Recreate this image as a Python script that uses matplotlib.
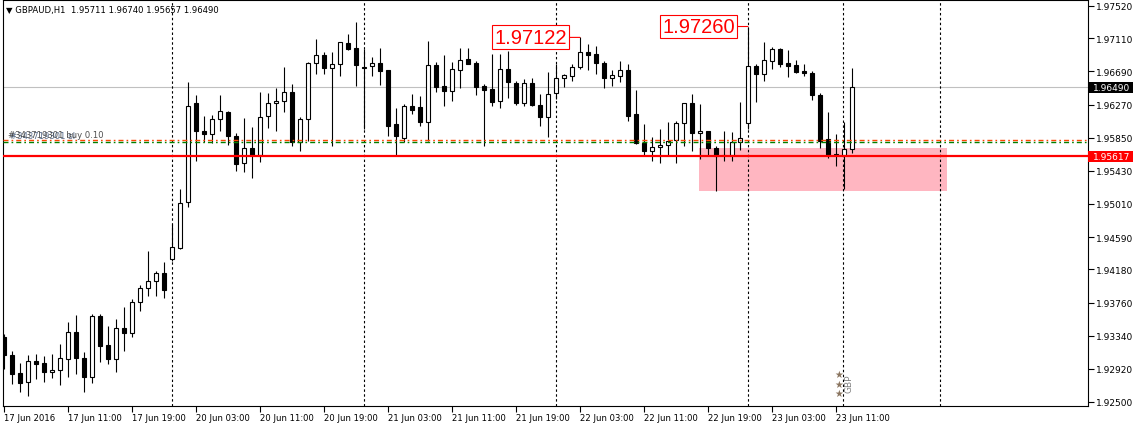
import numpy as np
import matplotlib
matplotlib.use("Agg")
import matplotlib.pyplot as plt
from matplotlib.patches import Rectangle

plt.rcParams['font.family'] = ['DejaVu Sans']

# GBPAUD H1, 17 Jun 2016 03:00 .. 23 Jun 2016 13:00 (one entry per bar)
opens = [1.93324, 1.93099, 1.92868, 1.92750, 1.93020, 1.92990, 1.92876, 1.92902, 1.93045, 1.93384,
         1.93054, 1.92813, 1.93586, 1.93222, 1.93045, 1.93434, 1.93371, 1.93771, 1.93941, 1.94030,
         1.94135, 1.94313, 1.94448, 1.95039, 1.96290, 1.95932, 1.95897, 1.96088, 1.96172, 1.95868,
         1.95526, 1.95716, 1.95631, 1.96122, 1.96287, 1.96312, 1.96426, 1.95792, 1.96088, 1.96794,
         1.96899, 1.96730, 1.96781, 1.97051, 1.96984, 1.96743, 1.96763, 1.96794, 1.96709, 1.96020,
         1.95843, 1.96248, 1.96236, 1.96046, 1.96772, 1.96502, 1.96446, 1.96712, 1.96848, 1.96797,
         1.96502, 1.96468, 1.96319, 1.96721, 1.96544, 1.96287, 1.96544, 1.96265, 1.96109, 1.96413,
         1.96607, 1.96636, 1.96743, 1.96933, 1.96912, 1.96794, 1.96603, 1.96636, 1.96709, 1.96151,
         1.95779, 1.95678, 1.95729, 1.95762, 1.95821, 1.96033, 1.96287, 1.95906, 1.95932, 1.95720,
         1.95635, 1.95635, 1.95792, 1.96033, 1.96756, 1.96658, 1.96827, 1.96975, 1.96794, 1.96772,
         1.96700, 1.96667, 1.96392, 1.95834, 1.95640, 1.95631, 1.95711]
highs = [1.93362, 1.93150, 1.92994, 1.93099, 1.93108, 1.93087, 1.93104, 1.93235, 1.93518, 1.93603,
         1.93134, 1.93612, 1.93612, 1.93460, 1.93552, 1.93700, 1.93806, 1.93983, 1.94410, 1.94157,
         1.94271, 1.94756, 1.95200, 1.96553, 1.96392, 1.96129, 1.96138, 1.96396, 1.96193, 1.95910,
         1.96096, 1.95982, 1.96426, 1.96417, 1.96477, 1.96743, 1.96531, 1.96109, 1.96806, 1.97102,
         1.96933, 1.96933, 1.97067, 1.97165, 1.97313, 1.96975, 1.96870, 1.96984, 1.96712, 1.96223,
         1.96278, 1.96404, 1.96383, 1.97080, 1.96806, 1.96899, 1.96806, 1.96984, 1.96984, 1.96827,
         1.96531, 1.96912, 1.96912, 1.96953, 1.96573, 1.96595, 1.96603, 1.96404, 1.96680, 1.96785,
         1.96658, 1.96785, 1.97122, 1.97038, 1.97009, 1.96827, 1.96709, 1.96827, 1.96785, 1.96455,
         1.96024, 1.95856, 1.95961, 1.96046, 1.96066, 1.96290, 1.96404, 1.96278, 1.95936, 1.95749,
         1.95932, 1.95919, 1.96299, 1.97260, 1.96785, 1.97060, 1.96996, 1.96984, 1.96956, 1.96835,
         1.96785, 1.96692, 1.96417, 1.96172, 1.95897, 1.96053, 1.96740]
lows = [1.92918, 1.92728, 1.92627, 1.92580, 1.92791, 1.92757, 1.92800, 1.92715, 1.92813, 1.92855,
        1.92631, 1.92741, 1.93007, 1.92982, 1.92876, 1.93150, 1.93320, 1.93657, 1.93848, 1.93848,
        1.93815, 1.94291, 1.94439, 1.94968, 1.95559, 1.95792, 1.95783, 1.95939, 1.95758, 1.95432,
        1.95412, 1.95336, 1.95539, 1.95970, 1.95939, 1.96180, 1.95741, 1.95686, 1.95812, 1.96658,
        1.96658, 1.95741, 1.96629, 1.96966, 1.96510, 1.95961, 1.96629, 1.96518, 1.95872, 1.95631,
        1.95792, 1.96151, 1.96003, 1.95812, 1.96426, 1.96248, 1.96319, 1.96477, 1.96780, 1.96392,
        1.95741, 1.96256, 1.96223, 1.96354, 1.96265, 1.96248, 1.96248, 1.95995, 1.95856, 1.96341,
        1.96489, 1.96565, 1.96721, 1.96709, 1.96658, 1.96480, 1.96510, 1.96553, 1.96066, 1.95771,
        1.95635, 1.95559, 1.95526, 1.95622, 1.95526, 1.95749, 1.95678, 1.95580, 1.95622, 1.95179,
        1.95551, 1.95559, 1.95694, 1.95961, 1.96299, 1.96573, 1.96721, 1.96743, 1.96614, 1.96671,
        1.96633, 1.96332, 1.95716, 1.95589, 1.95496, 1.95200, 1.95657]
closes = [1.93096, 1.92859, 1.92741, 1.93020, 1.92985, 1.92876, 1.92906, 1.93054, 1.93384, 1.93054,
          1.92813, 1.93586, 1.93214, 1.93045, 1.93434, 1.93371, 1.93764, 1.93941, 1.94030, 1.94135,
          1.93924, 1.94461, 1.95019, 1.96248, 1.95932, 1.95897, 1.96088, 1.96185, 1.95868, 1.95513,
          1.95716, 1.95631, 1.96117, 1.96287, 1.96316, 1.96426, 1.95792, 1.96088, 1.96794, 1.96899,
          1.96730, 1.96781, 1.97060, 1.96975, 1.96776, 1.96730, 1.96794, 1.96700, 1.96003, 1.95868,
          1.96248, 1.96205, 1.96046, 1.96772, 1.96497, 1.96446, 1.96721, 1.96839, 1.96785, 1.96497,
          1.96459, 1.96307, 1.96721, 1.96553, 1.96290, 1.96540, 1.96269, 1.96109, 1.96404, 1.96607,
          1.96645, 1.96743, 1.96933, 1.96903, 1.96794, 1.96603, 1.96645, 1.96709, 1.96129, 1.95779,
          1.95678, 1.95729, 1.95762, 1.95812, 1.96033, 1.96287, 1.95906, 1.95932, 1.95720, 1.95622,
          1.95627, 1.95792, 1.95843, 1.96756, 1.96658, 1.96835, 1.96975, 1.96785, 1.96763, 1.96687,
          1.96667, 1.96394, 1.95812, 1.95631, 1.95631, 1.95711, 1.96490]

tick_bars = [0, 8, 16, 24, 32, 40, 48, 56, 64, 72, 80, 88, 96, 104]
tick_labels = ["17 Jun 2016", "17 Jun 11:00", "17 Jun 19:00", "20 Jun 03:00", "20 Jun 11:00",
               "20 Jun 19:00", "21 Jun 03:00", "21 Jun 11:00", "21 Jun 19:00", "22 Jun 03:00",
               "22 Jun 11:00", "22 Jun 19:00", "23 Jun 03:00", "23 Jun 11:00"]
price_ticks = [1.97520, 1.97110, 1.96690, 1.96270, 1.95850, 1.95430, 1.95010,
               1.94590, 1.94180, 1.93760, 1.93340, 1.92920, 1.92500]
day_separators = [21, 45, 69, 93, 117]
event_bar = 104.9

bid = 1.96490
level = 1.95617
sl_line = 1.95817
order_line = 1.95794
zone = (86.9, 117.9, 1.95179, 1.95720)   # start bar, end bar, low, high
marked_highs = [(72, 1.97122), (93, 1.97260)]

o = np.array(opens); h = np.array(highs); l = np.array(lows); c = np.array(closes)
x = np.arange(len(o))

W, H = 1133, 427
fig = plt.figure(figsize=(W / 100, H / 100), dpi=100)
ax = fig.add_axes([2.7 / W, 20.5 / H, (1088 - 2.7) / W, 406 / H])
ax.set_xlim(-0.16, 135.5)
ax.set_ylim(1.924555, 1.976024)

# zone, guide lines
ax.add_patch(Rectangle((zone[0], zone[2]), zone[1] - zone[0], zone[3] - zone[2],
                       facecolor='#FFB6C1', edgecolor='none', zorder=1))
ax.axhline(bid, color='#C0C0C0', lw=0.8, zorder=1.5)
for b in day_separators:
    ax.axvline(b, color='black', lw=0.8, ls=(0, (2.2, 2.2)), zorder=1.6)
ax.axvline(event_bar, color='black', lw=0.8, ls=(0, (2.2, 2.2)), zorder=1.6)

# candles
ax.vlines(x, l, h, color='black', lw=0.8, zorder=2)
bull = c > o
ax.bar(x, np.abs(c - o), bottom=np.minimum(o, c), width=0.58,
       color=np.where(bull, 'white', 'black'), edgecolor='black', linewidth=0.8, zorder=3)

ax.axhline(sl_line, color='#FF4500', lw=1, dashes=(3.6, 2.2, 1.2, 2.2), zorder=3.5)
ax.axhline(order_line, color='#008000', lw=1, dashes=(3.6, 2.2, 1.2, 2.2), zorder=3.5)
ax.axhline(level, color='red', lw=1.6, zorder=4)

ax.text(0.75, 1.95826, "#343719301 sl", fontsize=6.1, color='#5a6e8c', va='bottom', zorder=5)
ax.text(0.55, 1.95830, "#343719301 buy 0.10", fontsize=6.1, color='#303030', va='bottom',
        zorder=5, alpha=0.85)

for bar, price in marked_highs:
    ax.annotate(f"{price:.5f}", xy=(bar, price), xytext=(-9.5, 0), textcoords='offset points',
                ha='right', va='center', fontsize=14.5, color='red', family='Liberation Sans',
                bbox=dict(boxstyle='square,pad=0.12', fc='white', ec='red', lw=0.8),
                arrowprops=dict(arrowstyle='-', color='red', lw=0.8, shrinkA=0, shrinkB=0),
                zorder=6)

# news event marker
ax.text(104.3, 1.92730, "★\n★\n★", fontsize=7, color='#8a7560', ha='center', va='center',
        linespacing=0.95, zorder=5)
ax.text(105.6, 1.92740, "GBP", fontsize=6.5, color='#808080', rotation=90, ha='center',
        va='center', zorder=5)

# axes styling
for s in ax.spines.values():
    s.set_linewidth(0.8)
    s.set_color('black')
ax.yaxis.tick_right()
ax.set_yticks(price_ticks)
ax.set_yticklabels([f"{p:.5f}" for p in price_ticks])
ax.tick_params(axis='y', direction='out', length=4, width=0.8, pad=2, labelsize=6.5)
ax.set_xticks(tick_bars)
ax.set_xticklabels(tick_labels, ha='left')
ax.tick_params(axis='x', direction='out', length=4, width=0.8, pad=1.5, labelsize=6.1)

# current price labels on the scale
ytr = ax.get_yaxis_transform()
box_w = 45 / (1088 - 2.7)
box_h = 11 * (1.976024 - 1.924555) / 406
for price, bg in [(bid, 'black'), (level, 'red')]:
    ax.add_patch(Rectangle((1.0, price - box_h / 2), box_w, box_h, transform=ytr,
                           facecolor=bg, edgecolor='none', clip_on=False, zorder=10))
    ax.text(1.0 + 5 / 1085, price, f"{price:.5f}", transform=ytr, color='white', fontsize=6.5,
            ha='left', va='center', clip_on=False, zorder=11)

fig.text(6 / W, 1 - 10 / H, "▼ GBPAUD,H1  1.95711 1.96740 1.95657 1.96490", fontsize=6.1,
         va='center', ha='left')

fig.savefig("out.png", dpi=100)
